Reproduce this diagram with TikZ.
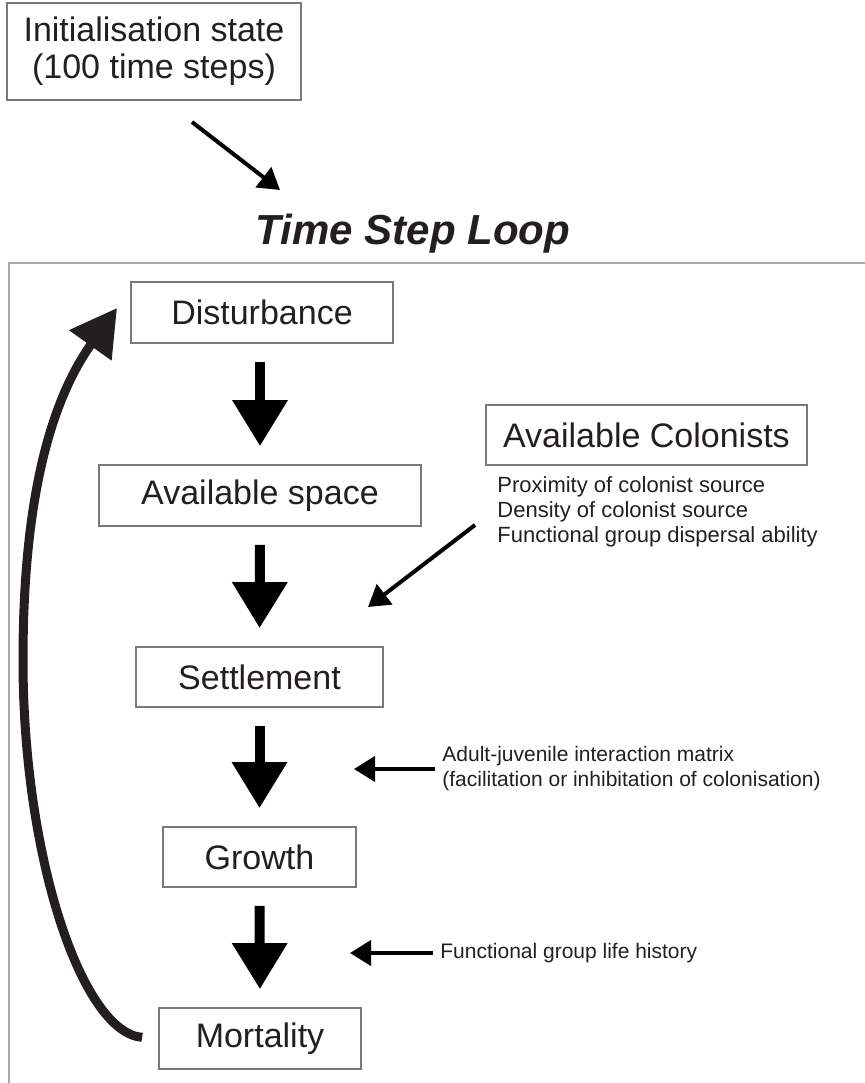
\documentclass[tikz,border=0pt]{standalone}
\usepackage{fontspec}
\setmainfont{Liberation Sans}
\usetikzlibrary{arrows.meta}
\definecolor{txt}{HTML}{231F20}
\definecolor{edge}{HTML}{7A7A7A}
\definecolor{frm}{HTML}{A8A8A8}

\begin{document}
\begin{tikzpicture}[x=0.5pt, y=-0.5pt,
	stbox/.style={draw=edge, line width=0.9pt, text=txt, inner sep=0pt, font=\fontsize{17}{20}\selectfont},
	lab/.style={text=txt, align=left, inner sep=0pt, anchor=west},
	bigarr/.style={line width=5pt, -{Triangle[length=23pt,width=26.5pt]}, shorten <=9pt, shorten >=9pt},
	thinarr/.style={line width=2pt, -{Triangle[length=10.5pt,width=12.5pt]}},
	loopy/.style={draw=txt, line width=4.5pt, -{Triangle[length=23pt,width=25pt]}, shorten <=8pt}]
	\useasboundingbox (0,0) rectangle (865,1083);
	% outer frame (runs off the page at right and bottom)
	\draw[frm, line width=1.2pt] (9,263) rectangle (900,1120);
	\node[stbox, align=center, minimum width=147pt, minimum height=48.5pt, font=\fontsize{17}{18.5}\selectfont] (init) at (154,51.5) {Initialisation state\\ (100 time steps)};
	\node[text=txt, font=\fontsize{21}{25}\selectfont\bfseries\itshape] (title) at (413,234) {Time Step Loop};
	\coordinate (inittail) at (192,122);
	\coordinate (inittip) at (280,190);
	\draw[thinarr] (inittail) -- (inittip);
	% loop boxes
	\node[stbox, minimum width=131pt, minimum height=30.5pt] (dist) at (262,312.5) {Disturbance};
	\node[stbox, minimum width=161pt, minimum height=30.5pt] (space) at (260,495.5) {Available space};
	\node[stbox, minimum width=123.5pt, minimum height=30pt] (settle) at (259.5,677) {Settlement};
	\node[stbox, minimum width=96.5pt, minimum height=30pt] (growth) at (259.5,857) {Growth};
	\node[stbox, minimum width=101pt, minimum height=30.5pt] (mort) at (260,1038.5) {Mortality};
	\draw[bigarr] (space.north |- dist.south) -- (space.north);
	\draw[bigarr] (space.south) -- (settle.north);
	\draw[bigarr] (settle.south) -- (growth.north);
	\draw[bigarr] (growth.south) -- (mort.north);
	% inputs
	\node[stbox, minimum width=160.5pt, minimum height=30pt] (col) at (646.5,435) {Available Colonists};
	\node[lab, font=\fontsize{11}{12.5}\selectfont] (factors) at (497,512) {Proximity of colonist source\\Density of colonist source\\Functional group dispersal ability};
	\coordinate (coltail) at (475,525);
	\coordinate (coltip) at (368,607);
	\draw[thinarr] (coltail) -- (coltip);
	\node[lab, font=\fontsize{10.5}{12.5}\selectfont] (adult) at (442,769) {Adult-juvenile interaction matrix\\(facilitation or inhibitation of colonisation)};
	\coordinate (adulttip) at (354,769);
	\draw[thinarr, shorten <=3.5pt] (adult.west) -- (adulttip);
	\node[lab, font=\fontsize{10.5}{12.5}\selectfont] (life) at (440,953) {Functional group life history};
	\coordinate (lifetip) at (350,953);
	\draw[thinarr, shorten <=3.5pt] (life.west) -- (lifetip);
	% feedback loop
	\coordinate (looptip) at (117,308);
	\draw[loopy] (mort.west) .. controls (83,1033) and (23,860) .. (23,660) .. controls (23,510) and (47,406) .. (looptip);
\end{tikzpicture}
\end{document}
